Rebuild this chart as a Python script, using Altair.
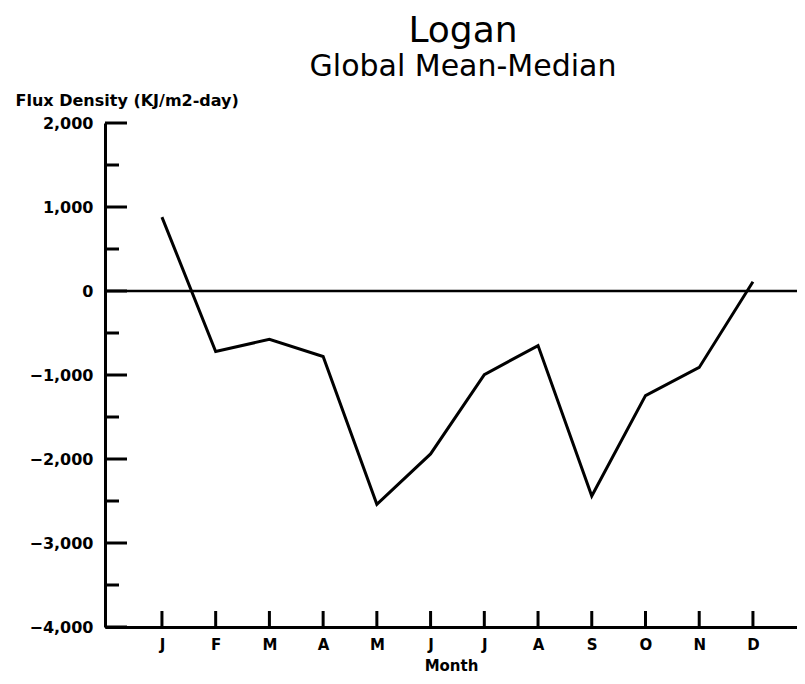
import json
import altair as alt
import pandas as pd

# ---- data ----
months = [1, 2, 3, 4, 5, 6, 7, 8, 9, 10, 11, 12]
month_labels = ["J", "F", "M", "A", "M", "J", "J", "A", "S", "O", "N", "D"]
flux = [880, -720, -575, -780, -2540, -1940, -995, -650, -2440, -1245, -910, 110]
major_ticks = [-4000, -3000, -2000, -1000, 0, 1000, 2000]
minor_ticks = [-3500, -2500, -1500, -500, 500, 1500]
zero_line = [0]

df = pd.DataFrame({"m": months, "flux": flux})
maj_df = pd.DataFrame({"flux": major_ticks})
min_df = pd.DataFrame({"flux": minor_ticks})
zero_df = pd.DataFrame({"flux": zero_line})
mon_df = pd.DataFrame({"m": months})

W, H = 692, 504
FONT = "DejaVu Sans"

x_scale = alt.Scale(domain=[-0.06, 12.82], nice=False, zero=False)
y_scale = alt.Scale(domain=[-4000, 2000], nice=False, zero=False)
label_expr = json.dumps(month_labels) + "[datum.value - 1]"

x_axis = alt.Axis(
    values=months, labelExpr=label_expr, ticks=False, grid=False,
    domainColor="black", domainWidth=3,
    labelFont=FONT, labelFontSize=15, labelFontWeight="bold",
    labelColor="black", labelPadding=10,
    title="Month", titleFont=FONT, titleFontSize=15,
    titleFontWeight="bold", titleColor="black", titlePadding=6,
)
y_axis = alt.Axis(
    values=major_ticks, format=",.0f", ticks=False, grid=False,
    domainColor="black", domainWidth=3,
    labelFont=FONT, labelFontSize=16, labelFontWeight="bold",
    labelColor="black", labelPadding=12,
    title="Flux Density (KJ/m2-day)", titleFont=FONT, titleFontSize=16,
    titleFontWeight="bold", titleColor="black", titleAngle=0,
    titleAlign="left", titleBaseline="alphabetic",
    titleX=-90, titleY=-18,
)

X = alt.X("m:Q", scale=x_scale, axis=x_axis)
Y = alt.Y("flux:Q", scale=y_scale, axis=y_axis)

line = alt.Chart(df).mark_line(color="black", strokeWidth=3).encode(x=X, y=Y)

ymaj = alt.Chart(maj_df).mark_rule(color="black", strokeWidth=3).encode(
    y=Y, x=alt.value(0), x2=alt.value(22)
)
ymin = alt.Chart(min_df).mark_rule(color="black", strokeWidth=3).encode(
    y=Y, x=alt.value(0), x2=alt.value(14)
)
xt = alt.Chart(mon_df).mark_rule(color="black", strokeWidth=3).encode(
    x=X, y=alt.value(H - 16), y2=alt.value(H)
)
zero = alt.Chart(zero_df).mark_rule(color="black", strokeWidth=2.5).encode(
    y=Y, x=alt.value(0), x2=alt.value(W)
)

chart = (
    alt.layer(line, zero, ymaj, ymin, xt)
    .properties(
        width=W,
        height=H,
        autosize="none",
        padding={"left": 97, "top": 115, "right": 0, "bottom": 57},
        title=alt.TitleParams(
            "Logan",
            subtitle="Global Mean-Median",
            font=FONT, fontSize=36, fontWeight="normal", color="black",
            subtitleFont=FONT, subtitleFontSize=30, subtitleColor="black",
            subtitlePadding=2, anchor="middle", dx=12, offset=9,
        ),
    )
    .configure(background="white")
    .configure_view(strokeWidth=0)
)

chart.save("out.html", embed_options={"renderer": "svg", "actions": False})
